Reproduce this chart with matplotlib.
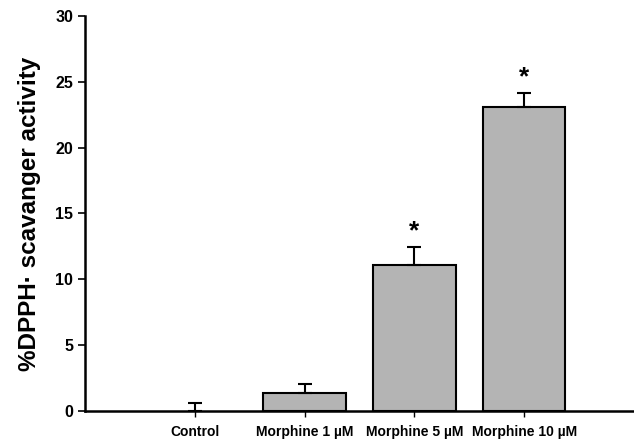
import matplotlib
matplotlib.use("Agg")
import matplotlib.pyplot as plt

groups = ["Control", "Morphine 1 µM", "Morphine 5 µM", "Morphine 10 µM"]
values = [0.0, 1.34, 11.1, 23.1]
errors = [0.6, 0.7, 1.35, 1.05]
signif = [False, False, True, True]

plt.rcParams["font.family"] = ["Liberation Sans", "DejaVu Sans"]
plt.rcParams["font.weight"] = "bold"

fig = plt.figure(figsize=(6.34, 4.4), dpi=100)
ax = fig.add_axes([0.134, 0.066, 0.866, 0.898])

x = list(range(len(groups)))
# zero-height bar leaves no outline in the original
lw = [1.5 if v > 0 else 0 for v in values]
ax.bar(x, values, width=0.75, color="#b4b4b4", edgecolor="black", linewidth=lw, zorder=2)
ax.errorbar(x, values, yerr=[[0] * len(errors), errors], fmt="none", ecolor="black",
            elinewidth=1.5, capsize=5, capthick=1.5, zorder=3)
for xi, v, e, s in zip(x, values, errors, signif):
    if s:
        ax.text(xi, v + e + 1.2, "*", ha="center", va="center", fontsize=19, fontweight="bold")

ax.set_xlim(-1, 4)
ax.set_ylim(0, 30)
ax.set_yticks(range(0, 31, 5))
ax.set_xticks(x)
ax.set_xticklabels(groups, fontsize=10, fontweight="bold")
ax.tick_params(axis="y", labelsize=11.5, direction="out", length=5, width=1.2)
ax.tick_params(axis="x", direction="out", length=4, width=1, pad=6)
for lab in ax.get_yticklabels():
    lab.set_fontweight("bold")
ax.set_ylabel("%DPPH· scavanger activity", fontsize=17.5, fontweight="bold", labelpad=10)

ax.spines["top"].set_visible(False)
ax.spines["right"].set_visible(False)
ax.spines["left"].set_linewidth(1.8)
ax.spines["bottom"].set_linewidth(1.8)

fig.savefig("out.png", dpi=100)
